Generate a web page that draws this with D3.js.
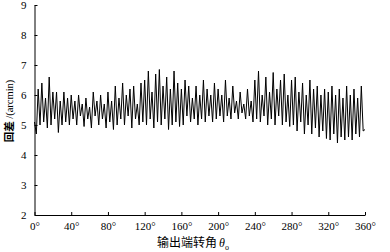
<!DOCTYPE html>
<html>
  <head>
    <meta charset="UTF-8" />
    <script src="https://d3js.org/d3.v7.min.js"></script>
    <style>
      body { margin: 0; background: #fff; }
    </style>
  </head>
  <body>
    <div id="chart"></div>
    <script>
      // angle step of the samples, degrees
      var angleStep = 2;
      // backlash values (arcmin), one every 2 degrees from 0 to 360
      var backlash = [
        5.1, 4.7, 6.2, 5.0, 6.4, 5.1, 5.9, 4.9, 6.6, 5.0, 6.1, 5.2, 6.1, 4.75, 5.8, 5.0, 6.1, 5.1, 5.9, 5.0, 6.0,
        5.2, 5.8, 5.0, 6.0, 5.3, 5.7, 4.95, 5.9, 5.2, 5.6, 4.9, 6.1, 5.3, 5.8, 5.0, 6.0, 5.2, 5.7, 4.9, 6.1,
        5.1, 5.8, 4.85, 6.3, 5.0, 5.9, 5.2, 6.4, 5.0, 6.0, 5.3, 6.2, 4.9, 6.3, 5.2, 5.7, 5.0, 6.4, 5.1, 6.5,
        5.0, 6.8, 5.2, 6.1, 4.9, 6.7, 5.1, 6.85, 5.0, 6.3, 5.2, 6.6, 4.85, 6.2, 5.0, 6.8, 5.1, 6.4, 4.95, 6.2,
        5.0, 6.5, 5.3, 6.3, 5.1, 5.9, 5.2, 6.3, 5.0, 6.0, 5.2, 6.5, 5.1, 6.2, 5.3, 6.0, 5.1, 6.4, 5.2, 6.2,
        5.3, 6.0, 5.1, 6.5, 5.3, 5.9, 5.2, 6.3, 5.4, 5.8, 5.2, 6.1, 5.4, 5.7, 5.2, 6.2, 5.3, 5.8, 5.1, 6.5,
        5.2, 6.8, 5.1, 6.0, 5.3, 6.6, 5.0, 6.1, 5.2, 6.75, 5.0, 6.2, 5.3, 6.5, 5.0, 6.7, 5.1, 6.0, 4.95, 6.5,
        5.0, 6.6, 4.8, 6.1, 5.1, 6.4, 4.7, 6.0, 5.0, 6.5, 4.7, 6.2, 4.9, 6.3, 4.6, 6.0, 4.8, 6.2, 4.55, 6.1,
        4.5, 6.3, 4.7, 6.0, 4.4, 6.2, 4.6, 5.9, 4.5, 6.3, 4.6, 6.0, 4.5, 6.2, 4.7, 5.9, 4.6, 6.3, 4.8, 4.85
      ];
      var xTicks = [0, 40, 80, 120, 160, 200, 240, 280, 320, 360];
      var yTicks = [2, 3, 4, 5, 6, 7, 8, 9];

      var data = backlash.map(function (v, i) {
        return { angle: i * angleStep, value: v };
      });

      var width = 390,
        height = 252;
      var margin = { top: 5, right: 25, bottom: 37, left: 34.5 };

      var svg = d3
        .select("#chart")
        .append("svg")
        .attr("width", width)
        .attr("height", height);

      var x = d3.scaleLinear().domain([0, 360]).range([margin.left, 365]);
      var y = d3.scaleLinear().domain([2, 9]).range([height - margin.bottom, margin.top]);

      var serif = "Liberation Serif";

      // x axis, ticks inside
      var gx = svg
        .append("g")
        .attr("transform", "translate(0," + y(2) + ")")
        .call(
          d3.axisBottom(x)
            .tickValues(xTicks)
            .tickSizeInner(-3)
            .tickSizeOuter(0)
            .tickPadding(7)
            .tickFormat(function (d) { return d + "°"; })
        );
      gx.attr("font-family", serif).attr("font-size", 11);
      gx.select(".domain").attr("stroke", "#000");
      gx.selectAll("text").attr("fill", "#000");

      // y axis, ticks inside
      var gy = svg
        .append("g")
        .attr("transform", "translate(" + x(0) + ",0)")
        .call(
          d3.axisLeft(y)
            .tickValues(yTicks)
            .tickSizeInner(-3)
            .tickSizeOuter(0)
            .tickPadding(8)
            .tickFormat(d3.format("d"))
        );
      gy.attr("font-family", serif).attr("font-size", 11);
      gy.select(".domain").attr("stroke", "#000");
      gy.selectAll("text").attr("fill", "#000");

      svg
        .append("path")
        .datum(data)
        .attr("fill", "none")
        .attr("stroke", "#000")
        .attr("stroke-width", 1)
        .attr("d", d3.line().x(function (d) { return x(d.angle); }).y(function (d) { return y(d.value); }));

      // axis titles
      var ytitle = svg
        .append("text")
        .attr("transform", "translate(13,111) rotate(-90)")
        .attr("text-anchor", "middle")
        .attr("font-size", 10.5);
      ytitle.append("tspan").attr("font-family", "Noto Sans CJK SC").attr("font-weight", "bold").text("回差");
      ytitle.append("tspan").attr("font-family", serif).text(" /(arcmin)");

      var xtitle = svg
        .append("text")
        .attr("x", 193)
        .attr("y", 247)
        .attr("text-anchor", "middle")
        .attr("font-size", 12);
      xtitle.append("tspan").attr("font-family", "Noto Sans CJK SC").text("输出端转角");
      xtitle.append("tspan").attr("font-family", serif).attr("font-style", "italic").attr("dx", 2).text("θ");
      xtitle.append("tspan").attr("font-family", serif).attr("font-size", 8).attr("dy", 3).text("o");
    </script>
  </body>
</html>
